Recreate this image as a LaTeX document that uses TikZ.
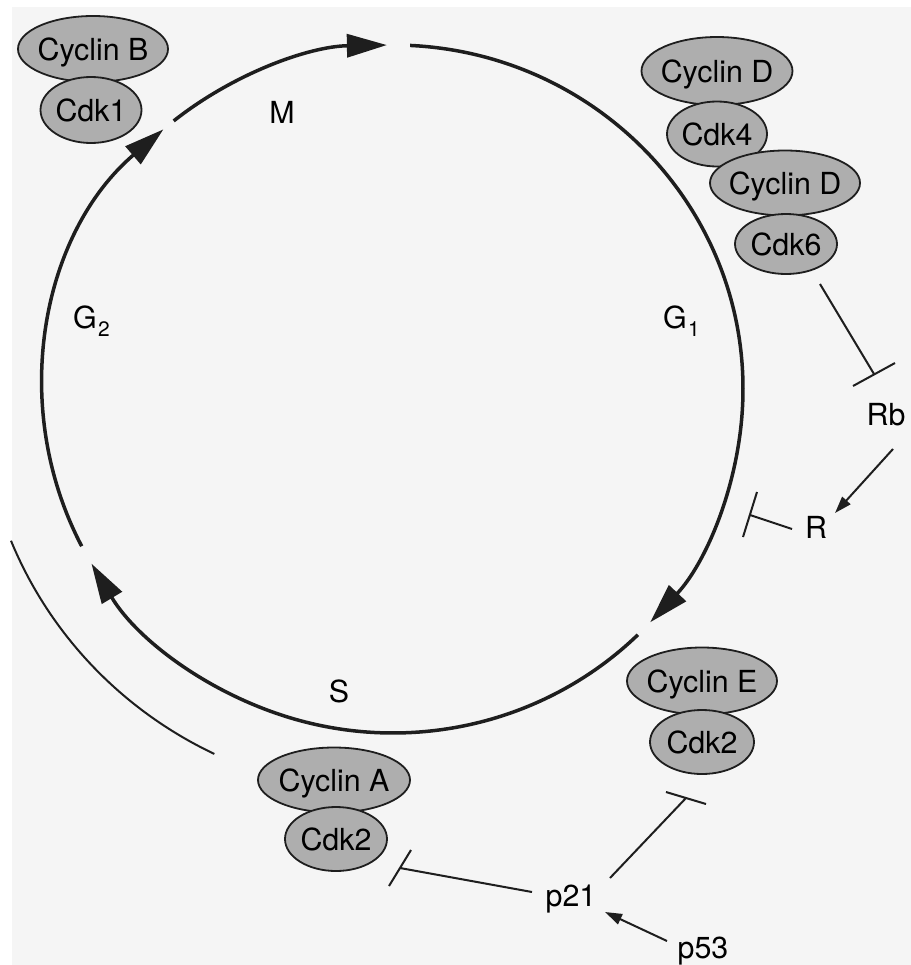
\documentclass[tikz,border=0pt]{standalone}
\usepackage{fontspec}
\setmainfont{TeX Gyre Heros}
\usetikzlibrary{arrows.meta,shapes.geometric,calc}
\definecolor{cfill}{HTML}{AEAEAE}
\definecolor{pagebg}{HTML}{F5F5F5}
\definecolor{ink}{HTML}{1E1E1E}
\newcommand{\figfont}{\fontsize{30.5}{36}\selectfont}
\newcommand{\subfont}{\fontsize{21}{24}\selectfont}
\newcommand{\pn}[1]{\makebox[0pt][c]{#1}}
\newcommand{\sub}[1]{\kern0.04em\raisebox{-0.28em}{\subfont #1}}
\begin{document}
\begin{tikzpicture}[x=1bp,y=-1bp,
  cyc/.style={draw=ink, line width=3.5bp, -{Triangle[length=40bp,width=23bp]}},
  thinarc/.style={draw=ink, line width=2bp},
  inh/.style={draw=ink, line width=2bp},
  act/.style={draw=ink, line width=2bp, -{Triangle[length=17bp,width=11bp]}},
  prot/.style={ellipse, draw=ink, line width=1.8bp, fill=cfill, inner sep=0pt,
    text height=22bp, text depth=0bp, font=\figfont},
  lbl/.style={inner sep=1bp, text height=22bp, text depth=0bp, font=\figfont}]
\useasboundingbox (0,0) rectangle (911,965);
\fill[white] (0,0) rectangle (911,965);
\fill[pagebg] (12,7) rectangle (911,965);

% cell cycle
\coordinate (ctr) at (393,389);
\draw[cyc] (ctr) ++(152.8:350 and 344) arc[start angle=152.8, end angle=229, x radius=350, y radius=344];
\draw[cyc] (ctr) ++(-128.8:350 and 344) arc[start angle=-128.8, end angle=-91, x radius=350, y radius=344];
\draw[cyc] (ctr) ++(-87.2:350 and 344) arc[start angle=-87.2, end angle=42.7, x radius=350, y radius=344];
\draw[cyc] (ctr) ++(45.6:350 and 344) arc[start angle=45.6, end angle=149.5, x radius=350, y radius=344];
\draw[thinarc] (ctr) ++(158:412 and 405) arc[start angle=158, end angle=115.7, x radius=412, y radius=405];

% phase labels
\node[lbl] (m) at (282,112) {M};
\node[lbl, anchor=west] (g1) at (662,317) {G\sub{1}};
\node[lbl, anchor=west] (g2) at (72,317) {G\sub{2}};
\node[lbl] (s) at (339,691) {S};

% complexes
\node[prot, minimum width=150bp, minimum height=66bp] (cycB) at (93,49) {\pn{Cyclin B}};
\node[prot, minimum width=101bp, minimum height=66bp] (cdk1) at (91,110) {\pn{Cdk1}};
\node[prot, minimum width=151bp, minimum height=68bp] (cycD1) at (717,71) {\pn{Cyclin D}};
\node[prot, minimum width=100bp, minimum height=65bp] (cdk4) at (717,134) {\pn{Cdk4}};
\node[prot, minimum width=150bp, minimum height=65bp] (cycD2) at (785,183) {\pn{Cyclin D}};
\node[prot, minimum width=102bp, minimum height=60bp] (cdk6) at (786,244) {\pn{Cdk6}};
\node[prot, minimum width=150bp, minimum height=67bp] (cycE) at (702,681) {\pn{Cyclin E}};
\node[prot, minimum width=104bp, minimum height=64bp] (cdk2e) at (702,742) {\pn{Cdk2}};
\node[prot, minimum width=152bp, minimum height=65bp] (cycA) at (334,780) {\pn{Cyclin A}};
\node[prot, minimum width=102bp, minimum height=64bp] (cdk2a) at (336,839) {\pn{Cdk2}};

% regulators
\node[lbl] (rb) at (886,414) {Rb};
\node[lbl] (r) at (816,527) {R};
\node[lbl] (p21) at (571,895) {p21};
\node[lbl] (p53) at (703,947) {p53};

% connectors
\draw[inh] ($(cdk6)+(34,40)$) -- ($(rb)+(-12,-40)$) ++(-21,12) -- ++(42,-23);
\draw[act] ($(rb)+(7,35)$) -- ($(r)+(19,-14)$);
\draw[inh] ($(r)+(-24,2)$) -- ($(r)+(-66,-12)$) ++(7,-23) -- ++(-14,45);
\draw[inh] ($(p21)+(39,-17)$) -- ($(cdk2e)+(-16,56)$) ++(-20,-6) -- ++(40,12);
\draw[inh] ($(p21)+(-39,-3)$) -- ($(cdk2a)+(64,29)$) ++(11,-18) -- ++(-22,36);
\draw[act] ($(p53)+(-36,-6)$) -- ($(p21)+(34,17)$);
\end{tikzpicture}
\end{document}
